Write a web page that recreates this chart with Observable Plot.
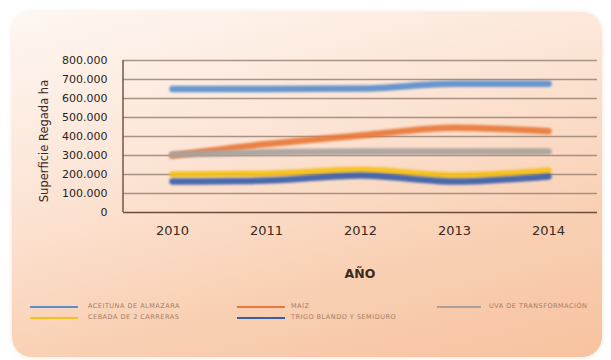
<!DOCTYPE html>
<html>
<head>
<meta charset="utf-8">
<script src="https://cdn.jsdelivr.net/npm/d3@7"></script>
<script src="https://cdn.jsdelivr.net/npm/@observablehq/plot@0.6"></script>
<style>
  html, body { margin: 0; padding: 0; background: #ffffff; }
  #page { position: relative; width: 611px; height: 360px; overflow: hidden; background: #ffffff; }
  #card { position: absolute; left: 12px; top: 12px; width: 590px; height: 345px; border-radius: 20px;
          background: linear-gradient(165deg, #fef7f2 0%, #fce6d8 35%, #f9d0b4 70%, #f7c29f 100%);
          box-shadow: 0 0 4px rgba(230,200,180,0.5); }
  #chart { position: absolute; left: 0; top: 0; }
  #chart svg g[aria-label="line"] path { filter: blur(1.1px); }
  #ytitle { position: absolute; left: 44px; top: 141px; transform: translate(-50%, -50%) rotate(-90deg);
            font: 11.5px "DejaVu Sans", sans-serif; color: #3a2a22; white-space: nowrap; }
  #xtitle { position: absolute; left: 360px; top: 273px; transform: translate(-50%, -50%);
            font: bold 12.5px "DejaVu Sans", sans-serif; color: #3a2a22; white-space: nowrap; }
  .leg { position: absolute; font: 6.5px "DejaVu Sans", sans-serif; color: #a67c62; letter-spacing: 0.5px; white-space: nowrap; }
  .sw { position: absolute; height: 2px; filter: blur(0.4px); }
</style>
</head>
<body>
<div id="page">
  <div id="card"></div>
  <div id="chart"></div>
  <div id="ytitle">Superficie Regada ha</div>
  <div id="xtitle">AÑO</div>
  <div id="legend"></div>
</div>
<script>
const years = ["2010", "2011", "2012", "2013", "2014"];
const seriesNames = ["ACEITUNA DE ALMAZARA", "MAÍZ", "UVA DE TRANSFORMACIÓN", "CEBADA DE 2 CARRERAS", "TRIGO BLANDO Y SEMIDURO"];
const aceituna = [650000, 650000, 652000, 677000, 677000];
const maiz = [300000, 360000, 405000, 446000, 428000];
const uva = [305000, 317000, 321000, 321000, 321000];
const cebada = [200000, 204000, 225000, 195000, 221000];
const trigo = [163000, 168000, 195000, 163000, 190000];
const colors = ["#5b8ecb", "#e8793a", "#a9a29c", "#f5c018", "#3c5ea8"];
const yTicks = [0, 100000, 200000, 300000, 400000, 500000, 600000, 700000, 800000];

const valuesBySeries = [aceituna, maiz, uva, cebada, trigo];
const data = [];
seriesNames.forEach((s, i) => years.forEach((y, j) => data.push({serie: s, year: y, value: valuesBySeries[i][j]})));

const fmt = d => d === 0 ? "0" : d3.format(",")(d).replace(/,/g, ".");

const chart = Plot.plot({
  width: 611,
  height: 290,
  marginLeft: 123,
  marginRight: 14,
  marginTop: 60,
  marginBottom: 78,
  style: {background: "transparent", fontFamily: "DejaVu Sans, sans-serif"},
  x: {type: "point", domain: years, padding: 0.5, label: null},
  y: {domain: [0, 800000], label: null},
  color: {domain: seriesNames, range: colors},
  marks: [
    Plot.ruleY(yTicks.filter(d => d > 0), {stroke: "#9a8476", strokeWidth: 1.3, strokeOpacity: 0.85}),
    Plot.ruleY([0], {stroke: "#6e4c3c", strokeWidth: 1.6}),
    Plot.axisY({ticks: yTicks, tickFormat: fmt, tickSize: 0, tickPadding: 16, fontSize: 11, fill: "#2a1e18", label: null}),
    Plot.axisX({tickSize: 0, tickPadding: 13, fontSize: 13, fill: "#3a2a22", label: null}),
    Plot.line(data, {x: "year", y: "value", z: "serie", stroke: "serie", strokeWidth: 6.5, curve: "monotone-x", strokeLinecap: "round", strokeOpacity: 0.92})
  ]
});
document.getElementById("chart").appendChild(chart);
// vertical axis line at left edge of the plot area
const svg = d3.select(chart);
svg.append("line").attr("x1", 123).attr("x2", 123).attr("y1", 60).attr("y2", 212)
   .attr("stroke", "#6e4c3c").attr("stroke-width", 1.4);

// legend
const legendPos = [
  {sx: 30, sw: 48, tx: 88, y: 307},
  {sx: 237, sw: 48, tx: 291, y: 307},
  {sx: 437, sw: 44, tx: 489, y: 307},
  {sx: 30, sw: 48, tx: 88, y: 318},
  {sx: 237, sw: 48, tx: 291, y: 318}
];
const leg = document.getElementById("legend");
seriesNames.forEach((s, i) => {
  const p = legendPos[i];
  const sw = document.createElement("div");
  sw.className = "sw";
  sw.style.left = p.sx + "px"; sw.style.top = (p.y - 1) + "px"; sw.style.width = p.sw + "px";
  sw.style.background = colors[i];
  leg.appendChild(sw);
  const t = document.createElement("div");
  t.className = "leg";
  t.style.left = p.tx + "px"; t.style.top = (p.y - 5) + "px";
  t.textContent = s;
  leg.appendChild(t);
});
</script>
</body>
</html>
